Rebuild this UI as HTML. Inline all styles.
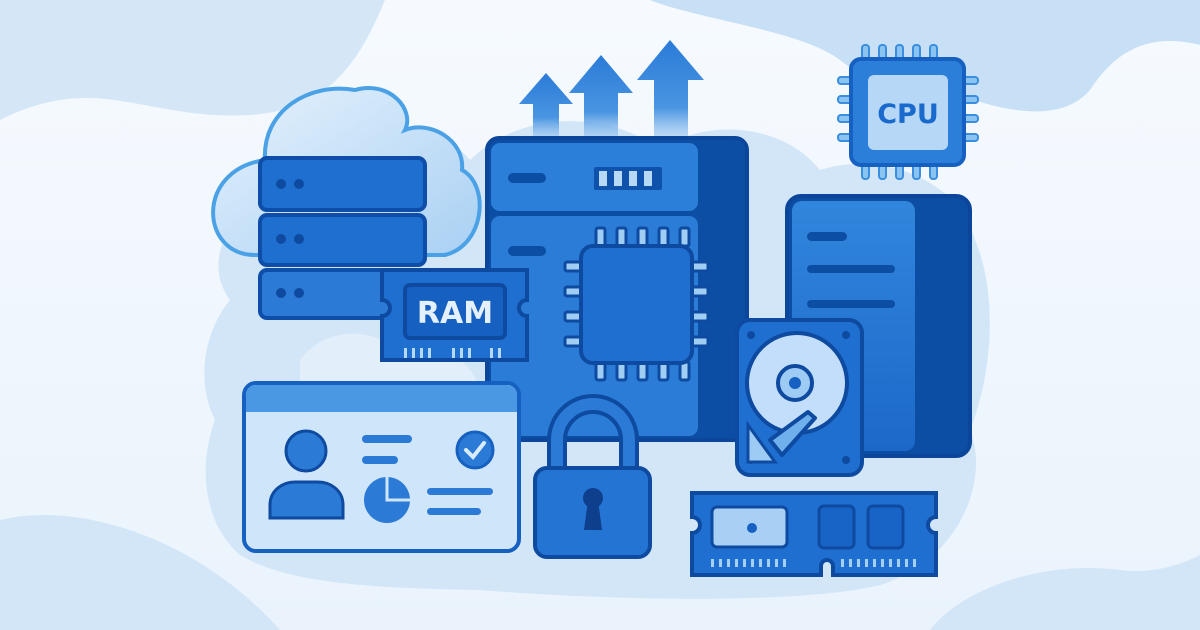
<!DOCTYPE html>
<html><head><meta charset="utf-8"><style>
html,body{margin:0;padding:0;width:1200px;height:630px;overflow:hidden;background:#f3f8fd}
svg{display:block}
text{font-family:"DejaVu Sans","Liberation Sans",sans-serif;font-weight:bold}
</style></head><body>
<svg width="1200" height="630" viewBox="0 0 1200 630" xmlns="http://www.w3.org/2000/svg">
<defs>
<linearGradient id="bg" x1="0" y1="0" x2="0" y2="1"><stop offset="0" stop-color="#f6fafe"/><stop offset="1" stop-color="#eaf3fc"/></linearGradient>
<linearGradient id="arr" x1="0" y1="0" x2="0" y2="1"><stop offset="0" stop-color="#2a7bd8"/><stop offset="0.7" stop-color="#4a95e2"/><stop offset="1" stop-color="#9cc7f0" stop-opacity="0.6"/></linearGradient>
<linearGradient id="cl" x1="0" y1="0" x2="1" y2="1"><stop offset="0" stop-color="#e6f2fd"/><stop offset="1" stop-color="#a9d0f3"/></linearGradient>
<linearGradient id="blu" x1="0" y1="0" x2="0" y2="1"><stop offset="0" stop-color="#3186dc"/><stop offset="1" stop-color="#1c68c9"/></linearGradient>
</defs>
<rect width="1200" height="630" fill="url(#bg)"/>
<path d="M0 0 H385 C360 60 330 110 250 115 C170 120 120 90 60 100 C30 105 10 115 0 120 Z" fill="#d5e7f7"/>
<path d="M650 0 H1200 V45 C1140 30 1110 60 1090 90 C1060 125 1000 110 960 95 C900 75 870 85 840 60 C800 30 700 20 650 0 Z" fill="#c8e0f5"/>
<path d="M0 520 C80 500 200 540 280 630 H0 Z" fill="#d3e6f7"/>
<path d="M930 630 C960 590 1040 560 1120 570 C1160 575 1190 560 1200 555 V630 Z" fill="#d3e6f7"/>
<path d="M230 300 C200 260 230 200 300 190 C330 120 430 110 470 160 C520 110 610 110 660 150 C700 120 780 120 820 170 C880 150 960 180 975 240 C1000 300 990 380 970 430 C990 480 960 560 880 585 C800 605 600 600 480 590 C380 588 290 585 240 555 C200 520 200 460 215 420 C195 380 205 330 230 300 Z" fill="#d2e6f8"/>
<path d="M300 360 C330 320 390 330 400 360 C440 340 480 360 480 400 L300 420 Z" fill="#e2effb"/>
<path d="M255 255 C200 255 195 170 265 160 C262 110 310 82 355 90 C390 80 415 110 405 130 C430 120 465 140 462 170 C490 185 485 245 445 255 Z" fill="url(#cl)" stroke="#4ba1e6" stroke-width="4"/>
<g stroke="#0f4ea8" stroke-width="4">
<rect x="260" y="158" width="165" height="52" rx="7" fill="#1f6fd1"/>
<rect x="260" y="215" width="165" height="50" rx="7" fill="#1f6fd1"/>
<rect x="260" y="270" width="165" height="48" rx="7" fill="#2a7ad6"/>
</g>
<g fill="#0d4aa0"><circle cx="281" cy="184" r="5"/><circle cx="299" cy="184" r="5"/><circle cx="281" cy="239" r="5"/><circle cx="299" cy="239" r="5"/><circle cx="281" cy="293" r="5"/><circle cx="299" cy="293" r="5"/></g>
<g fill="url(#arr)">
<path d="M533 137 V104 H519 L546 73 L573 104 H559 V137 Z"/>
<path d="M584 137 V93 H569 L601 55 L633 93 H618 V137 Z"/>
<path d="M654 137 V80 H637 L670 40 L704 80 H688 V137 Z"/>
</g>
<rect x="487" y="138" width="260" height="302" rx="12" fill="#0d4ea5" stroke="#0b469a" stroke-width="4"/>
<rect x="491" y="143" width="207" height="68" rx="9" fill="#2b7fd9"/>
<rect x="491" y="216" width="207" height="220" rx="9" fill="#2a7cd7"/>
<rect x="508" y="173" width="38" height="10" rx="5" fill="#0d4ea5"/>
<rect x="594" y="167" width="68" height="23" rx="2" fill="#0f52ac"/>
<g fill="#b8d9f6"><rect x="599" y="171" width="8" height="15"/><rect x="614" y="171" width="8" height="15"/><rect x="629" y="171" width="8" height="15"/><rect x="644" y="171" width="8" height="15"/></g>
<rect x="508" y="246" width="38" height="10" rx="5" fill="#0d4ea5"/>
<g fill="#9fcdf3" stroke="#0d4aa0" stroke-width="3">
<rect x="596" y="228" width="9" height="18" rx="2"/><rect x="617" y="228" width="9" height="18" rx="2"/><rect x="638" y="228" width="9" height="18" rx="2"/><rect x="659" y="228" width="9" height="18" rx="2"/><rect x="680" y="228" width="9" height="18" rx="2"/>
<rect x="596" y="362" width="9" height="18" rx="2"/><rect x="617" y="362" width="9" height="18" rx="2"/><rect x="638" y="362" width="9" height="18" rx="2"/><rect x="659" y="362" width="9" height="18" rx="2"/><rect x="680" y="362" width="9" height="18" rx="2"/>
<rect x="565" y="262" width="18" height="9" rx="2"/><rect x="565" y="287" width="18" height="9" rx="2"/><rect x="565" y="312" width="18" height="9" rx="2"/><rect x="565" y="337" width="18" height="9" rx="2"/>
<rect x="690" y="262" width="18" height="9" rx="2"/><rect x="690" y="287" width="18" height="9" rx="2"/><rect x="690" y="312" width="18" height="9" rx="2"/><rect x="690" y="337" width="18" height="9" rx="2"/>
</g>
<rect x="581" y="246" width="111" height="117" rx="12" fill="#1f6fd1" stroke="#0d4aa0" stroke-width="4"/>
<path d="M382 270 H527 V300 A8 8 0 0 0 527 316 V360 H382 V316 A8 8 0 0 0 382 300 Z" fill="#1f6fd1" stroke="#0d4aa0" stroke-width="4"/>
<rect x="405" y="285" width="100" height="53" rx="5" fill="#1560c0" stroke="#0d4aa0" stroke-width="4"/>
<text x="455" y="323" text-anchor="middle" font-size="30" fill="#e4f1fd">RAM</text>
<g fill="#b8d9f6"><rect x="404" y="348" width="3" height="10"/><rect x="412" y="348" width="3" height="10"/><rect x="420" y="348" width="3" height="10"/><rect x="428" y="348" width="3" height="10"/><rect x="452" y="348" width="3" height="10"/><rect x="460" y="348" width="3" height="10"/><rect x="468" y="348" width="3" height="10"/><rect x="490" y="348" width="3" height="10"/><rect x="498" y="348" width="3" height="10"/></g>
<g fill="#8cc4f0" stroke="#3a8ee0" stroke-width="2">
<rect x="862" y="45" width="7" height="16" rx="3"/><rect x="879" y="45" width="7" height="16" rx="3"/><rect x="896" y="45" width="7" height="16" rx="3"/><rect x="913" y="45" width="7" height="16" rx="3"/><rect x="930" y="45" width="7" height="16" rx="3"/>
<rect x="862" y="163" width="7" height="16" rx="3"/><rect x="879" y="163" width="7" height="16" rx="3"/><rect x="896" y="163" width="7" height="16" rx="3"/><rect x="913" y="163" width="7" height="16" rx="3"/><rect x="930" y="163" width="7" height="16" rx="3"/>
<rect x="838" y="77" width="16" height="7" rx="3"/><rect x="838" y="96" width="16" height="7" rx="3"/><rect x="838" y="115" width="16" height="7" rx="3"/><rect x="838" y="134" width="16" height="7" rx="3"/>
<rect x="962" y="77" width="16" height="7" rx="3"/><rect x="962" y="96" width="16" height="7" rx="3"/><rect x="962" y="115" width="16" height="7" rx="3"/><rect x="962" y="134" width="16" height="7" rx="3"/>
</g>
<rect x="851" y="59" width="113" height="106" rx="10" fill="#2b7fd9" stroke="#1560c0" stroke-width="4"/>
<rect x="868" y="75" width="80" height="75" rx="6" fill="#b6d8f6"/>
<text x="908" y="123" text-anchor="middle" font-size="27" fill="#1a69cc">CPU</text>
<rect x="787" y="196" width="183" height="260" rx="14" fill="#0d4ea5" stroke="#0b469a" stroke-width="4"/>
<rect x="792" y="201" width="123" height="250" rx="10" fill="url(#blu)"/>
<rect x="807" y="232" width="40" height="9" rx="4.5" fill="#0d4ea5"/>
<rect x="807" y="265" width="88" height="8" rx="4" fill="#0d4ea5"/>
<rect x="807" y="300" width="88" height="8" rx="4" fill="#0d4ea5"/>
<rect x="737" y="320" width="125" height="155" rx="13" fill="#1f6fd1" stroke="#0d4aa0" stroke-width="4"/>
<g fill="#0d4aa0"><circle cx="751" cy="335" r="4"/><circle cx="846" cy="335" r="4"/><circle cx="751" cy="460" r="4"/><circle cx="846" cy="460" r="4"/></g>
<circle cx="797" cy="383" r="50" fill="#c2defa" stroke="#0d4aa0" stroke-width="4"/>
<circle cx="795" cy="383" r="17" fill="#9ecbf3" stroke="#0d4aa0" stroke-width="4"/>
<circle cx="795" cy="383" r="6" fill="#1560c0"/>
<path d="M748 425 L748 462 L775 462 Z" fill="#9ecbf3" stroke="#0d4aa0" stroke-width="3"/>
<path d="M770 440 L808 412 L815 418 L782 455 Z" fill="#6fb0ec" stroke="#0d4aa0" stroke-width="4" stroke-linejoin="round"/>
<rect x="244" y="383" width="275" height="168" rx="12" fill="#cfe5fa" stroke="#1560c0" stroke-width="4"/>
<path d="M246 412 V395 A10 10 0 0 1 256 385 H507 A10 10 0 0 1 517 395 V412 Z" fill="#4a98e4"/>
<circle cx="306" cy="451" r="20" fill="#2a7ad6" stroke="#0d4aa0" stroke-width="3"/>
<path d="M270 518 V505 C270 490 283 482 295 482 H318 C330 482 343 490 343 505 V518 Z" fill="#2a7ad6" stroke="#0d4aa0" stroke-width="3"/>
<rect x="362" y="435" width="50" height="8" rx="4" fill="#2a7ad6"/>
<rect x="362" y="456" width="36" height="8" rx="4" fill="#2a7ad6"/>
<circle cx="475" cy="450" r="18" fill="#2a7ad6" stroke="#1560c0" stroke-width="3"/>
<path d="M466 450 L473 457 L484 443" stroke="#d9ecfd" stroke-width="4" fill="none" stroke-linecap="round"/>
<circle cx="387" cy="500" r="23" fill="#2a7ad6"/>
<path d="M387 477 V500 H410" stroke="#cfe5fa" stroke-width="3" fill="none"/>
<rect x="427" y="488" width="66" height="7" rx="3.5" fill="#2a7ad6"/>
<rect x="427" y="508" width="54" height="7" rx="3.5" fill="#2a7ad6"/>
<path d="M557 472 V440 A36 36 0 0 1 629 440 V472" fill="none" stroke="#0d4aa0" stroke-width="20"/>
<path d="M557 472 V440 A36 36 0 0 1 629 440 V472" fill="none" stroke="#2a7ad6" stroke-width="12"/>
<rect x="535" y="468" width="115" height="89" rx="12" fill="#2475d3" stroke="#0d4aa0" stroke-width="4"/>
<circle cx="593" cy="498" r="10" fill="#0d3f8c"/>
<path d="M588 500 L584 530 H602 L598 500 Z" fill="#0d3f8c"/>
<path d="M692 493 H936 V517 A8 8 0 0 0 936 533 V575 H833 V566 A6 6 0 0 0 821 566 V575 H692 V533 A8 8 0 0 0 692 517 Z" fill="#1f6fd1" stroke="#0d4aa0" stroke-width="4"/>
<rect x="712" y="507" width="75" height="40" rx="5" fill="#a8d0f5" stroke="#0d4aa0" stroke-width="3"/>
<circle cx="752" cy="528" r="5" fill="#1560c0"/>
<rect x="819" y="506" width="35" height="42" rx="5" fill="#1764c6" stroke="#0d4aa0" stroke-width="3"/>
<rect x="868" y="506" width="35" height="42" rx="5" fill="#1764c6" stroke="#0d4aa0" stroke-width="3"/>
<g fill="#a8d0f5">
<rect x="711" y="559" width="3" height="8"/><rect x="719" y="559" width="3" height="8"/><rect x="727" y="559" width="3" height="8"/><rect x="735" y="559" width="3" height="8"/><rect x="743" y="559" width="3" height="8"/><rect x="751" y="559" width="3" height="8"/><rect x="759" y="559" width="3" height="8"/><rect x="767" y="559" width="3" height="8"/><rect x="775" y="559" width="3" height="8"/><rect x="783" y="559" width="3" height="8"/>
<rect x="841" y="559" width="3" height="8"/><rect x="849" y="559" width="3" height="8"/><rect x="857" y="559" width="3" height="8"/><rect x="865" y="559" width="3" height="8"/><rect x="873" y="559" width="3" height="8"/><rect x="881" y="559" width="3" height="8"/><rect x="889" y="559" width="3" height="8"/><rect x="897" y="559" width="3" height="8"/><rect x="905" y="559" width="3" height="8"/><rect x="913" y="559" width="3" height="8"/>
</g>
</svg>
</body></html>
